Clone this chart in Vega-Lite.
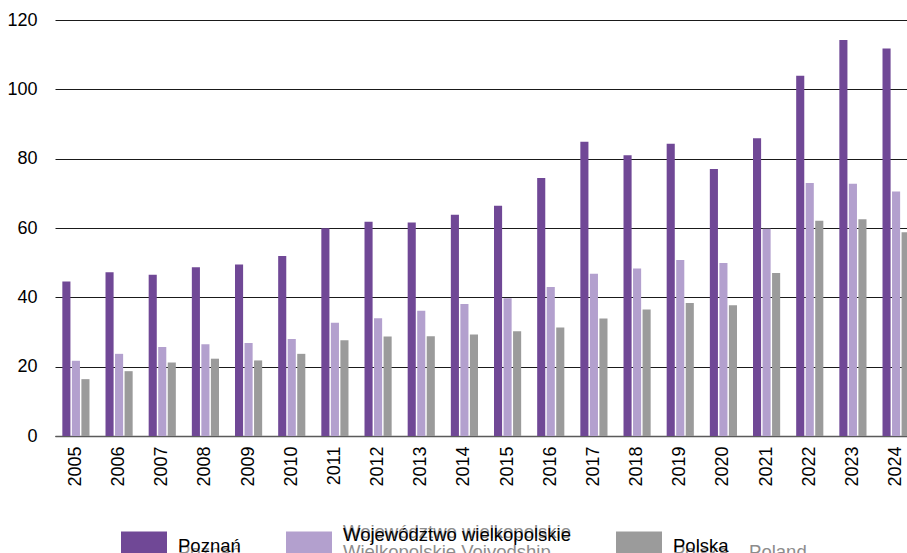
{
  "$schema": "https://vega.github.io/schema/vega-lite/v6.json",
  "width": 852,
  "height": 416,
  "autosize": {"type": "none"},
  "padding": {"left": 55, "top": 20, "right": 0, "bottom": 117},
  "config": {
    "font": "Liberation Sans",
    "view": {"stroke": null},
    "axis": {"labelFont": "Liberation Sans", "labelFontSize": 18, "labelColor": "#000"}
  },
  "data": {
    "values": [
      {"year": 2005, "series": "Poznań", "value": 44.6},
      {"year": 2005, "series": "Województwo wielkopolskie", "value": 21.7},
      {"year": 2005, "series": "Polska", "value": 16.4},
      {"year": 2006, "series": "Poznań", "value": 47.2},
      {"year": 2006, "series": "Województwo wielkopolskie", "value": 23.7},
      {"year": 2006, "series": "Polska", "value": 18.7},
      {"year": 2007, "series": "Poznań", "value": 46.5},
      {"year": 2007, "series": "Województwo wielkopolskie", "value": 25.7},
      {"year": 2007, "series": "Polska", "value": 21.2},
      {"year": 2008, "series": "Poznań", "value": 48.7},
      {"year": 2008, "series": "Województwo wielkopolskie", "value": 26.5},
      {"year": 2008, "series": "Polska", "value": 22.3},
      {"year": 2009, "series": "Poznań", "value": 49.5},
      {"year": 2009, "series": "Województwo wielkopolskie", "value": 26.8},
      {"year": 2009, "series": "Polska", "value": 21.8},
      {"year": 2010, "series": "Poznań", "value": 51.9},
      {"year": 2010, "series": "Województwo wielkopolskie", "value": 28.0},
      {"year": 2010, "series": "Polska", "value": 23.7},
      {"year": 2011, "series": "Poznań", "value": 59.9},
      {"year": 2011, "series": "Województwo wielkopolskie", "value": 32.7},
      {"year": 2011, "series": "Polska", "value": 27.6},
      {"year": 2012, "series": "Poznań", "value": 61.8},
      {"year": 2012, "series": "Województwo wielkopolskie", "value": 34.0},
      {"year": 2012, "series": "Polska", "value": 28.7},
      {"year": 2013, "series": "Poznań", "value": 61.6},
      {"year": 2013, "series": "Województwo wielkopolskie", "value": 36.1},
      {"year": 2013, "series": "Polska", "value": 28.8},
      {"year": 2014, "series": "Poznań", "value": 63.8},
      {"year": 2014, "series": "Województwo wielkopolskie", "value": 38.1},
      {"year": 2014, "series": "Polska", "value": 29.3},
      {"year": 2015, "series": "Poznań", "value": 66.4},
      {"year": 2015, "series": "Województwo wielkopolskie", "value": 39.7},
      {"year": 2015, "series": "Polska", "value": 30.2},
      {"year": 2016, "series": "Poznań", "value": 74.4},
      {"year": 2016, "series": "Województwo wielkopolskie", "value": 43.0},
      {"year": 2016, "series": "Polska", "value": 31.3},
      {"year": 2017, "series": "Poznań", "value": 84.9},
      {"year": 2017, "series": "Województwo wielkopolskie", "value": 46.8},
      {"year": 2017, "series": "Polska", "value": 33.9},
      {"year": 2018, "series": "Poznań", "value": 81.0},
      {"year": 2018, "series": "Województwo wielkopolskie", "value": 48.3},
      {"year": 2018, "series": "Polska", "value": 36.5},
      {"year": 2019, "series": "Poznań", "value": 84.3},
      {"year": 2019, "series": "Województwo wielkopolskie", "value": 50.8},
      {"year": 2019, "series": "Polska", "value": 38.4},
      {"year": 2020, "series": "Poznań", "value": 77.0},
      {"year": 2020, "series": "Województwo wielkopolskie", "value": 49.9},
      {"year": 2020, "series": "Polska", "value": 37.7},
      {"year": 2021, "series": "Poznań", "value": 85.9},
      {"year": 2021, "series": "Województwo wielkopolskie", "value": 59.8},
      {"year": 2021, "series": "Polska", "value": 47.0},
      {"year": 2022, "series": "Poznań", "value": 103.9},
      {"year": 2022, "series": "Województwo wielkopolskie", "value": 73.0},
      {"year": 2022, "series": "Polska", "value": 62.1},
      {"year": 2023, "series": "Poznań", "value": 114.2},
      {"year": 2023, "series": "Województwo wielkopolskie", "value": 72.8},
      {"year": 2023, "series": "Polska", "value": 62.5},
      {"year": 2024, "series": "Poznań", "value": 111.8},
      {"year": 2024, "series": "Województwo wielkopolskie", "value": 70.5},
      {"year": 2024, "series": "Polska", "value": 58.8}
    ]
  },
  "transform": [{"calculate": "'g_' + datum.series", "as": "grp"}],
  "mark": {"type": "bar"},
  "encoding": {
    "x": {
      "field": "year",
      "type": "ordinal",
      "scale": {"range": [0, 862], "paddingInner": 0.371, "paddingOuter": 0.17},
      "axis": {
        "title": null,
        "labelAngle": -90,
        "ticks": false,
        "labelPadding": 10,
        "domainColor": "#5a5a5a",
        "domainWidth": 1.5
      }
    },
    "xOffset": {
      "field": "series",
      "type": "nominal",
      "sort": ["Poznań", "Województwo wielkopolskie", "Polska"],
      "scale": {"domain": ["Poznań", "Województwo wielkopolskie", "Polska"], "paddingInner": 0.15, "paddingOuter": 0}
    },
    "y": {
      "field": "value",
      "type": "quantitative",
      "scale": {"domain": [0, 120], "nice": false},
      "axis": {
        "title": null,
        "values": [0, 20, 40, 60, 80, 100, 120],
        "ticks": false,
        "domain": false,
        "labelPadding": 18,
        "grid": true,
        "gridColor": "#1a1a1a",
        "gridWidth": 1
      }
    },
    "fill": {
      "field": "series",
      "type": "nominal",
      "scale": {
        "domain": ["Poznań", "Województwo wielkopolskie", "Polska"],
        "range": ["#704896", "#b3a0ce", "#9b9b9b"]
      },
      "legend": {
        "orient": "none",
        "legendX": 66,
        "legendY": 500,
        "direction": "horizontal",
        "title": null,
        "padding": 0,
        "symbolType": "M-1,-0.5H1V0.5H-1Z",
        "symbolSize": 2116,
        "symbolStrokeWidth": 0,
        "labelFont": "Liberation Sans",
        "labelFontSize": 18.5,
        "labelColor": "#000",
        "labelOffset": 11,
        "labelLimit": 500,
        "columnPadding": 45,
        "zindex": 2,
        "labelExpr": "datum.label == 'Województwo wielkopolskie' ? ['Województwo wielkopolskie', '', ''] : ['', datum.label, '']",
        "encode": {"labels": {"update": {"lineHeight": {"value": 11}, "dy": {"value": -8.5}}}}
      }
    },
    "opacity": {
      "field": "grp",
      "type": "nominal",
      "scale": {
        "type": "ordinal",
        "domain": ["g_Poznań", "g_Województwo wielkopolskie", "g_Polska"],
        "range": [1, 1, 1]
      },
      "legend": {
        "orient": "none",
        "legendX": 66,
        "legendY": 488.5,
        "direction": "horizontal",
        "title": null,
        "padding": 0,
        "symbolType": "M-1,-0.5L-1,-0.5M1,0.5L1,0.5",
        "symbolSize": 2116,
        "symbolStrokeWidth": 0,
        "labelFont": "Liberation Sans",
        "labelFontSize": 18.5,
        "labelColor": "#8c8c8c",
        "labelOffset": 11,
        "labelLimit": 500,
        "columnPadding": 45,
        "zindex": 1,
        "labelExpr": "datum.label == 'g_Województwo wielkopolskie' ? ['Województwo wielkopolskie', '', 'Wielkopolskie Voivodship'] : datum.label == 'g_Polska' ? ['', 'Polska\u00a0\u00a0\u00a0\u00a0Poland', ''] : ['', 'Poznań', '']",
        "encode": {
          "labels": {"update": {"lineHeight": {"value": 11}, "dy": {"value": -8.5}}},
          "symbols": {"update": {"opacity": {"value": 0}, "fillOpacity": {"value": 0}, "strokeOpacity": {"value": 0}}}
        }
      }
    }
  }
}
